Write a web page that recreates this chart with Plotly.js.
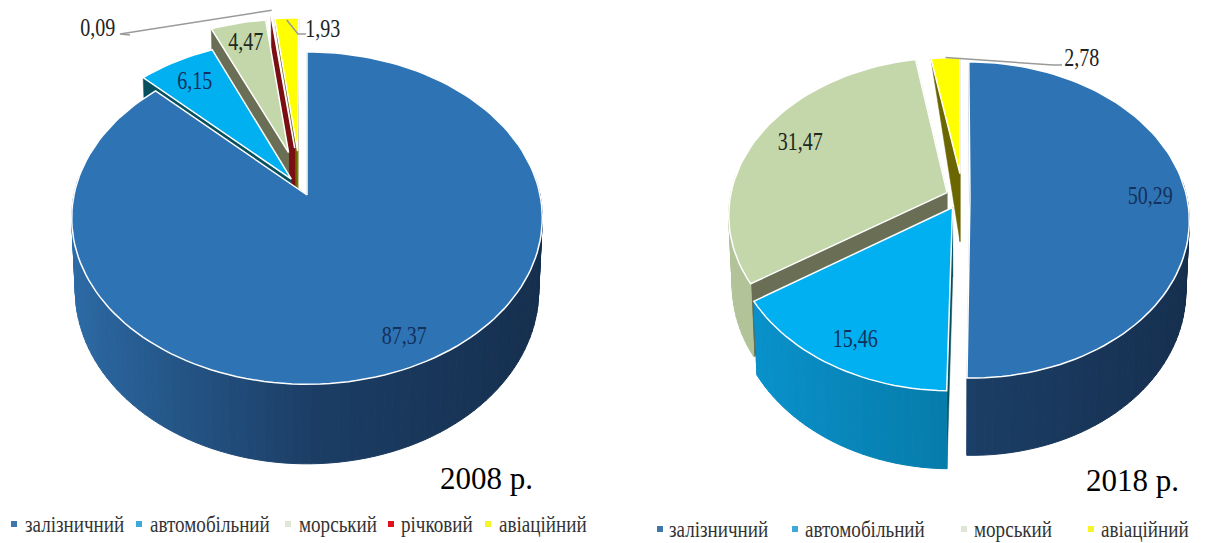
<!DOCTYPE html>
<html>
<head>
<meta charset="utf-8">
<script src="https://cdn.plot.ly/plotly-3.0.1.min.js"></script>
<style>html,body{margin:0;padding:0;background:#fff}#chart{width:1208px;height:543px}</style>
</head>
<body>
<div id="chart"></div>
<script>
// Freight turnover shares by transport mode, %
const categories2008 = ['залізничний', 'автомобільний', 'морський', 'річковий', 'авіаційний'];
const values2008 = [87.37, 6.15, 4.47, 0.09, 1.93];
const categories2018 = ['залізничний', 'автомобільний', 'морський', 'авіаційний'];
const values2018 = [50.29, 15.46, 31.47, 2.78];

const SERIF = 'Liberation Serif, Times New Roman, serif';

// Colours per mode: top face, cut wall, rim at the left, middle and right
const modeStyle = {
  'залізничний':   {top: '#2e74b5', wall: '#1d4a78', rimL: '#2d6ca8', rimM: '#1b3d64', rimR: '#152e4d', key: '#3f77ab', ink: '#14305c'},
  'автомобільний': {top: '#00b0f0', wall: '#064f5f', rimL: '#0a96d2', rimM: '#067aa8', rimR: '#05668a', key: '#3fa9d8', ink: '#12305c'},
  'морський':      {top: '#c3d7ab', wall: '#6a6e55', rimL: '#b3c49a', rimM: '#a8ba8c', rimR: '#a8ba8c', key: '#dfe6d5', ink: '#20281c'},
  'річковий':      {top: '#c00000', wall: '#7a0e12', rimL: '#7a0e12', rimM: '#7a0e12', rimR: '#7a0e12', key: '#e0101e', ink: '#222'},
  'авіаційний':    {top: '#ffff00', wall: '#6b6600', rimL: '#8a8600', rimM: '#8a8600', rimR: '#8a8600', key: '#f5f52a', ink: '#222'}
};

// Perspective model of each tilted disc. du/dv move a sector off the hub,
// scale shortens it, taper narrows its cut wall to a sliver.
const layout2008 = {
  cx: 307, cy: 195, R: 233, H: 163, k: 0.1386, D: 71,
  sectors: [
    {du: 0, dv: 0, scale: 1},
    {du: -0.068, dv: 0.099, scale: 1},
    {du: -0.082, dv: 0.27, scale: 1},
    {du: -0.055, dv: 0.30, scale: 1},
    {du: -0.042, dv: 0.28, scale: 1, taper: true}
  ],
  labels: [
    {x: 404, y: 335}, {x: 195, y: 80}, {x: 246, y: 41},
    {x: 98, y: 27, via: [[120, 34], [130, 35]], lift: -6},
    {x: 323, y: 28, via: [[298, 34], [306, 34]], lift: 2}
  ],
  keyMarks: [14, 139, 288, 391, 488],
  keyText: [23, 148, 297, 399, 497],
  keyY: 524,
  caption: {text: '2008 р.', x: 438, y: 478}
};

const layout2018 = {
  cx: 960, cy: 198, R: 217, H: 155, k: 0.1386, D: 69,
  sectors: [
    {du: 0.046, dv: 0, scale: 1},
    {du: -0.034, dv: -0.061, scale: 1},
    {du: -0.06, dv: 0.035, scale: 1},
    {du: 0, dv: 0.16, scale: 0.88, taper: true}
  ],
  labels: [
    {x: 1150, y: 195}, {x: 855, y: 338}, {x: 800, y: 141},
    {x: 1082, y: 57, via: [[1053, 65], [1062, 65]], lift: 0}
  ],
  keyMarks: [660, 795, 964, 1091],
  keyText: [667, 803, 972, 1099],
  keyY: 529,
  caption: {text: '2018 р.', x: 1084, y: 480}
};

const hexMix = (a, b, t) => {
  const p = h => [1, 3, 5].map(i => parseInt(h.substr(i, 2), 16));
  const A = p(a), B = p(b);
  return 'rgb(' + A.map((c, i) => Math.round(c + (B[i] - c) * t)).join(',') + ')';
};

const traces = [];
const annotations = [];
const condense = [];   // horizontal squeeze applied to each annotation after drawing

function note(spec, squeeze) {
  annotations.push(spec);
  condense.push(squeeze);
}

function polygon(xs, ys, fill, line, width) {
  traces.push({
    type: 'scatter', mode: 'lines', x: xs, y: ys, fill: 'toself', fillcolor: fill,
    line: {color: line, width: width}, hoverinfo: 'skip', showlegend: false
  });
}

function drawDisc(values, categories, g) {
  const total = values.reduce((a, b) => a + b, 0);
  const project = (u, v, low) => {
    const s = 1 / (1 + g.k * v);
    const f = low ? 0.985 : 1;
    return [g.cx + g.R * u * s * f, g.cy - g.H * v * s * f + (low ? g.D * s : 0)];
  };
  let acc = 0;
  const sectors = values.map((val, i) => {
    const a0 = acc / total * 2 * Math.PI;
    acc += val;
    const a1 = acc / total * 2 * Math.PI;
    return {i, val, a0, a1, mid: (a0 + a1) / 2, name: categories[i], geo: g.sectors[i]};
  });

  // Back sectors first so the nearer ones cover them
  [...sectors].sort((p, q) => Math.cos(q.mid) - Math.cos(p.mid)).forEach(sec => {
    const st = modeStyle[sec.name], geo = sec.geo;
    const at = (a, r) => [geo.du + r * geo.scale * Math.sin(a), geo.dv + r * geo.scale * Math.cos(a)];
    const steps = Math.max(2, Math.ceil((sec.a1 - sec.a0) / (Math.PI / 90)));
    const angles = Array.from({length: steps + 1}, (_, j) => sec.a0 + (sec.a1 - sec.a0) * j / steps);

    // Cut walls
    [sec.a0, sec.a1].forEach(a => {
      const [ou, ov] = at(a, 1), [hu, hv] = at(a, 0);
      const pts = geo.taper
        ? [project(ou, ov, false), project(hu, hv, false), project(hu, hv, true)]
        : [project(ou, ov, false), project(hu, hv, false), project(hu, hv, true), project(ou, ov, true)];
      polygon([...pts.map(p => p[0]), pts[0][0]], [...pts.map(p => p[1]), pts[0][1]], st.wall, st.wall, 0.5);
    });

    // Outer rim, one shaded strip per step
    for (let j = 0; j < steps; j++) {
      const a = angles[j], b = angles[j + 1];
      if (Math.cos((a + b) / 2) > 0.1) continue;
      const [u0, v0] = at(a, 1), [u1, v1] = at(b, 1);
      const q = [project(u0, v0, false), project(u1, v1, false), project(u1, v1, true), project(u0, v0, true)];
      const t = (Math.sin((a + b) / 2) + 1) / 2;
      const c = t < 0.52 ? hexMix(st.rimL, st.rimM, t / 0.52) : hexMix(st.rimM, st.rimR, (t - 0.52) / 0.48);
      polygon([...q.map(p => p[0]), q[0][0]], [...q.map(p => p[1]), q[0][1]], c, c, 1);
    }

    // Top face
    const hub = project(...at(0, 0), false);
    const arc = angles.map(a => project(...at(a, 1), false));
    polygon([hub[0], ...arc.map(p => p[0]), hub[0]], [hub[1], ...arc.map(p => p[1]), hub[1]], st.top, '#ffffff', 1.5);
    sec.arcMid = project(...at(sec.mid, 1), false);
  });

  // Value labels and their leaders
  sectors.forEach(sec => {
    const pos = g.labels[sec.i];
    if (pos.via) {
      const xs = [sec.arcMid[0], ...pos.via.map(p => p[0])].reverse();
      const ys = [sec.arcMid[1] + pos.lift, ...pos.via.map(p => p[1])].reverse();
      traces.push({type: 'scatter', mode: 'lines', x: xs, y: ys,
        line: {color: '#9a9a9a', width: 1.5}, hoverinfo: 'skip', showlegend: false});
    }
    note({
      x: pos.x, y: pos.y, xref: 'x', yref: 'y', showarrow: false,
      text: String(sec.val).replace('.', ','),
      font: {family: SERIF, size: 26, color: modeStyle[sec.name].ink}
    }, 0.77);
  });

  // Key under the disc
  categories.forEach((name, i) => {
    traces.push({type: 'scatter', mode: 'markers', x: [g.keyMarks[i]], y: [g.keyY],
      marker: {symbol: 'square', size: 6, color: modeStyle[name].key},
      hoverinfo: 'skip', showlegend: false});
    note({
      x: g.keyText[i], y: g.keyY, xref: 'x', yref: 'y', xanchor: 'left', showarrow: false,
      text: name, font: {family: SERIF, size: 23, color: '#333'}
    }, 0.83);
  });

  note({
    x: g.caption.x, y: g.caption.y, xref: 'x', yref: 'y', xanchor: 'left', showarrow: false,
    text: g.caption.text, font: {family: SERIF, size: 31, color: '#000'}
  }, 1);
}

drawDisc(values2008, categories2008, layout2008);
drawDisc(values2018, categories2018, layout2018);

Plotly.newPlot('chart', traces, {
  width: 1208, height: 543, autosize: false,
  margin: {l: 0, r: 0, t: 0, b: 0},
  paper_bgcolor: '#ffffff', plot_bgcolor: '#ffffff',
  showlegend: false,
  xaxis: {range: [0, 1208], visible: false, fixedrange: true},
  yaxis: {range: [543, 0], visible: false, fixedrange: true},
  annotations: annotations
}, {displayModeBar: false, staticPlot: true}).then(gd => {
  // Condensed lettering: squeeze each text around its anchored edge
  gd.querySelectorAll('.annotation').forEach(node => {
    const i = Number(node.getAttribute('data-index'));
    const k = condense[i];
    if (k === 1) return;
    const text = node.querySelector('text');
    const box = text.getBBox();
    const px = annotations[i].xanchor === 'left' ? box.x : box.x + box.width / 2;
    text.setAttribute('transform', `translate(${px},0) scale(${k},1) translate(${-px},0)`);
  });
});
</script>
</body>
</html>
